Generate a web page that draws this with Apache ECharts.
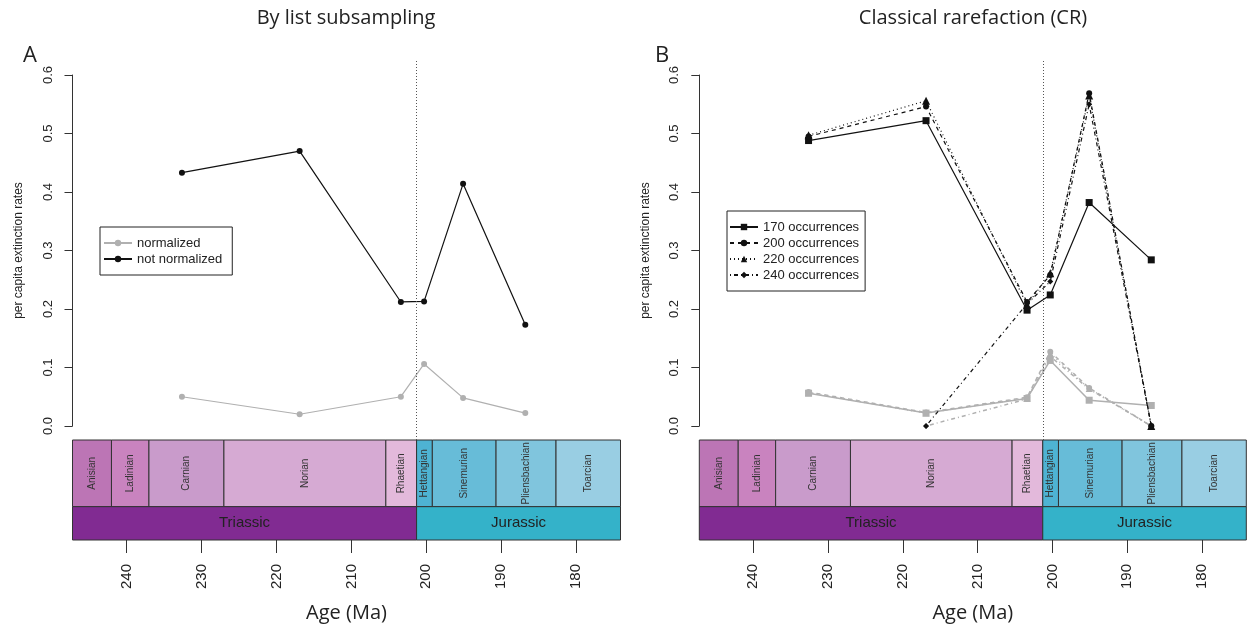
<!DOCTYPE html>
<html>
<head>
<meta charset="utf-8">
<script src="https://cdn.jsdelivr.net/npm/echarts@6/dist/echarts.min.js"></script>
<style>html,body{margin:0;padding:0;background:#fff}#c{width:1248px;height:634px}</style>
</head>
<body>
<div id="c"></div>
<script>
// ---- data ----
const ages = [232.6, 216.9, 203.4, 200.3, 195.1, 186.8];
const listNormalized = [0.050, 0.020, 0.050, 0.106, 0.048, 0.022];
const listNotNormalized = [0.433, 0.470, 0.212, 0.213, 0.414, 0.173];
const cr170 = [0.488, 0.522, 0.198, 0.224, 0.382, 0.284];
const cr200 = [0.495, 0.546, 0.212, 0.258, 0.569, 0.0];
const cr220 = [0.497, 0.556, 0.207, 0.261, 0.565, 0.0];
const cr240 = [null, 0.0, 0.209, 0.247, 0.550, 0.0];
const cr170Norm = [0.056, 0.022, 0.047, 0.112, 0.044, 0.035];
const cr200Norm = [0.058, 0.023, 0.049, 0.127, 0.065, 0.0];
const cr220Norm = [0.057, 0.022, 0.048, 0.124, 0.064, 0.0];
const cr240Norm = [null, 0.0, 0.046, 0.119, 0.063, 0.0];
const yTicks = [0, 0.1, 0.2, 0.3, 0.4, 0.5, 0.6];
const xTicks = [240, 230, 220, 210, 200, 190, 180];
const stageNames = ['Anisian','Ladinian','Carnian','Norian','Rhaetian','Hettangian','Sinemurian','Pliensbachian','Toarcian'];
const stageBase = [247.2, 242, 237, 227, 205.4, 201.3, 199.2, 190.7, 182.7];
const stageTop  = [242, 237, 227, 205.4, 201.3, 199.2, 190.7, 182.7, 174.1];
const periodNames = ['Triassic','Jurassic'];
const periodBase = [247.2, 201.3];
const periodTop = [201.3, 174.1];
const boundaryTJ = 201.3;
const ageMin = 174.1, ageMax = 247.2;

// ---- styles ----
const stageColors = ['#BC75B5','#C983BF','#C99BCB','#D6AAD3','#E3B9DB','#4EB3D3','#67BCD8','#80C5DD','#99CEE3'];
const periodColors = ['#812B92','#34B2C9'];
const GREY = '#b0b0b0', BLACK = '#111';
const FONT = 'Liberation Sans';
const TFONT = 'Open Sans';

const panels = [
  {left: 72.5, width: 548, center: 346},
  {left: 699.3, width: 547, center: 973}
];

const grids = [], xAxes = [], yAxes = [], series = [];
panels.forEach((p, i) => {
  grids.push({left: p.left, width: p.width, top: 61, height: 379});
  grids.push({left: p.left, width: p.width, top: 75, height: 351});
  grids.push({left: p.left, width: p.width, top: 440, height: 100});
  for (let k = 0; k < 3; k++) {
    xAxes.push({
      type: 'value', gridIndex: 3*i+k, min: ageMin, max: ageMax, inverse: true,
      show: k === 2,
      axisLine: {show: false}, splitLine: {show: false},
      axisTick: {show: true, length: 13, customValues: xTicks, lineStyle: {color: '#333', width: 1}},
      axisLabel: {show: true, customValues: xTicks, rotate: 90, margin: 24, fontSize: 15, fontFamily: FONT, color: '#222'},
      name: 'Age (Ma)', nameLocation: 'middle', nameGap: 63,
      nameTextStyle: {fontSize: 20, fontFamily: TFONT, color: '#222'}
    });
  }
  yAxes.push({type: 'value', gridIndex: 3*i, min: -0.024, max: 0.624, show: false});
  yAxes.push({
    type: 'value', gridIndex: 3*i+1, min: 0, max: 0.6, interval: 0.1,
    splitLine: {show: false},
    axisLine: {show: true, lineStyle: {color: '#333', width: 1}},
    axisTick: {show: true, length: 8, lineStyle: {color: '#333'}},
    axisLabel: {rotate: 90, margin: 18, fontSize: 13, fontFamily: FONT, color: '#222', formatter: v => v.toFixed(1)},
    name: 'per capita extinction rates', nameLocation: 'middle', nameGap: 48, nameRotate: 90,
    nameTextStyle: {fontSize: 12, fontFamily: FONT, color: '#222'}
  });
  yAxes.push({type: 'value', gridIndex: 3*i+2, min: 0, max: 3, show: false});

  const boxes = [];
  stageNames.forEach((n, k) => boxes.push([stageBase[k], stageTop[k], 1, 3, n, 's', k]));
  periodNames.forEach((n, k) => boxes.push([periodBase[k], periodTop[k], 0, 1, n, 'p', k]));
  series.push({
    type: 'custom', xAxisIndex: 3*i+2, yAxisIndex: 3*i+2, silent: true,
    data: boxes,
    renderItem: (params, api) => {
      const d = boxes[params.dataIndex];
      const a = api.coord([d[0], d[3]]);
      const b = api.coord([d[1], d[2]]);
      const x = Math.min(a[0], b[0]), y = Math.min(a[1], b[1]);
      const w = Math.abs(b[0]-a[0]), h = Math.abs(b[1]-a[1]);
      const isStage = d[5] === 's';
      const fill = isStage ? stageColors[d[6]] : periodColors[d[6]];
      return {
        type: 'group',
        children: [
          {type: 'rect', shape: {x, y, width: w, height: h}, style: {fill, stroke: '#333', lineWidth: 1}},
          {type: 'text', x: x + w/2, y: y + h/2, rotation: isStage ? Math.PI/2 : 0,
           style: {text: d[4], align: 'center', verticalAlign: 'middle',
                   fontSize: isStage ? 10 : 15, fontFamily: FONT, fill: isStage ? '#333' : '#222'}}
        ]
      };
    }
  });
});

function pairs(vals) { return ages.map((a, k) => [a, vals[k]]); }
function lineSeries(name, panel, vals, color, symbol, size, type, width, z) {
  return {
    type: 'line', name, xAxisIndex: 3*panel, yAxisIndex: 3*panel, data: pairs(vals),
    symbol, symbolSize: size, clip: false, silent: true, z,
    lineStyle: {color, width, type}, itemStyle: {color, borderWidth: 0}
  };
}

const sL = lineSeries('normalized', 0, listNormalized, GREY, 'circle', 6, 'solid', 1.2, 2);
sL.markLine = {silent: true, symbol: 'none', label: {show: false},
  lineStyle: {color: '#555', width: 1, type: [1, 2]}, data: [{xAxis: boundaryTJ}]};
series.push(sL);
series.push(lineSeries('not normalized', 0, listNotNormalized, BLACK, 'circle', 6, 'solid', 1.2, 3));

const g170 = lineSeries('170 normalized', 1, cr170Norm, GREY, 'rect', 7, 'solid', 1.5, 2);
g170.markLine = {silent: true, symbol: 'none', label: {show: false},
  lineStyle: {color: '#555', width: 1, type: [1, 2]}, data: [{xAxis: boundaryTJ}]};
series.push(g170);
series.push(lineSeries('200 normalized', 1, cr200Norm, GREY, 'circle', 6, [4, 4], 1.5, 2));
series.push(lineSeries('220 normalized', 1, cr220Norm, GREY, 'triangle', 7, [1, 3], 1.5, 2));
series.push(lineSeries('240 normalized', 1, cr240Norm, GREY, 'diamond', 6, [1, 3, 4, 3], 1.5, 2));
series.push(lineSeries('170 occurrences', 1, cr170, BLACK, 'rect', 7, 'solid', 1.2, 4));
series.push(lineSeries('200 occurrences', 1, cr200, BLACK, 'circle', 6, [4, 4], 1.2, 4));
series.push(lineSeries('220 occurrences', 1, cr220, BLACK, 'triangle', 8, [1, 3], 1.2, 4));
series.push(lineSeries('240 occurrences', 1, cr240, BLACK, 'diamond', 6, [1, 3, 4, 3], 1.2, 4));

const legendCommon = {
  orient: 'vertical', borderColor: '#222', borderWidth: 1, itemGap: 0,
  itemWidth: 28, itemHeight: 8, selectedMode: false,
  textStyle: {fontSize: 13, lineHeight: 16, fontFamily: FONT, color: '#222'}
};

const option = {
  animation: false,
  backgroundColor: '#fff',
  grid: grids, xAxis: xAxes, yAxis: yAxes, series,
  legend: [
    Object.assign({}, legendCommon, {data: ['normalized', 'not normalized'], left: 100, top: 227, padding: [8, 10, 8, 3]}),
    Object.assign({}, legendCommon, {data: ['170 occurrences', '200 occurrences', '220 occurrences', '240 occurrences'], left: 727, top: 211, padding: [8, 6, 8, 2]})
  ],
  graphic: [
    {type: 'text', x: panels[0].center, y: 18, style: {text: 'By list subsampling', align: 'center', verticalAlign: 'middle', fontSize: 20, fontFamily: TFONT, fill: '#222'}},
    {type: 'text', x: panels[1].center, y: 18, style: {text: 'Classical rarefaction (CR)', align: 'center', verticalAlign: 'middle', fontSize: 20, fontFamily: TFONT, fill: '#222'}},
    {type: 'text', x: 30, y: 56, style: {text: 'A', align: 'center', verticalAlign: 'middle', fontSize: 22, fontFamily: TFONT, fill: '#222'}},
    {type: 'text', x: 662, y: 56, style: {text: 'B', align: 'center', verticalAlign: 'middle', fontSize: 22, fontFamily: TFONT, fill: '#222'}}
  ]
};

const chart = echarts.init(document.getElementById('c'), null, {renderer: 'canvas'});
chart.setOption(option);
</script>
</body>
</html>
